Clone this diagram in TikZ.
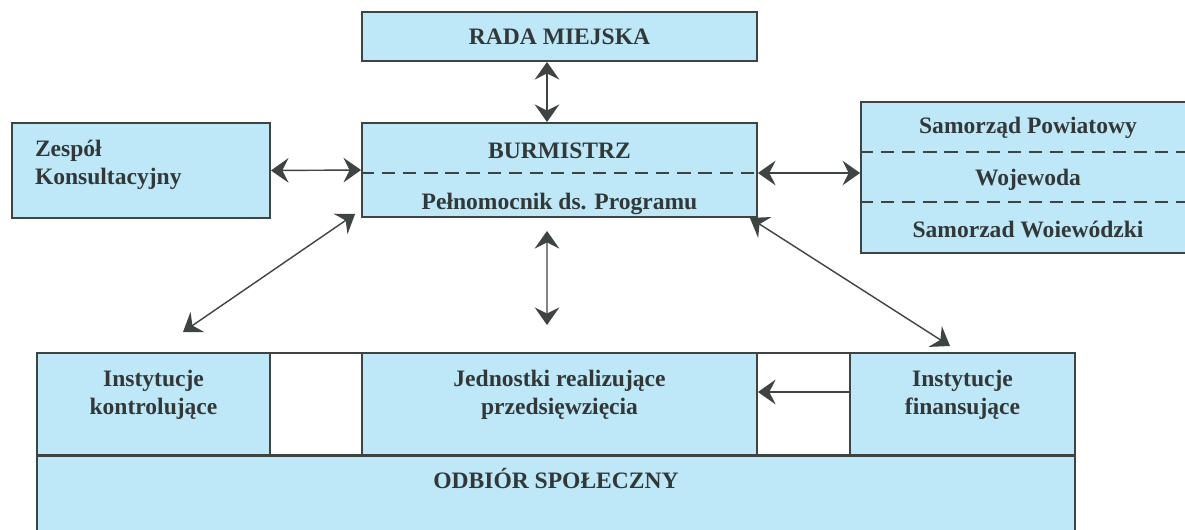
\documentclass[tikz,border=0pt]{standalone}
\usepackage{fontspec}
\setmainfont{Liberation Serif}
\usetikzlibrary{arrows.meta}
\definecolor{boxblue}{RGB}{190,231,247}
\definecolor{edge}{RGB}{62,68,66}
\definecolor{ink}{RGB}{50,56,56}
\begin{document}
\begin{tikzpicture}[x=0.02cm,y=-0.02cm,
    box/.style={draw=edge,line width=1.1pt,fill=boxblue,inner sep=0pt,align=center,
      text=ink,font=\fontsize{13.4}{16}\selectfont\bfseries},
    gapbox/.style={draw=edge,line width=1.1pt,fill=white,inner sep=0pt},
    link/.style={{Stealth[length=10pt,width=14pt,inset=3.5pt]}-{Stealth[length=10pt,width=14pt,inset=3.5pt]},
      line width=0.8pt,draw=edge},
    oneway/.style={-{Stealth[length=10pt,width=14pt,inset=3.5pt]},line width=0.8pt,draw=edge},
    divider/.style={draw=edge,line width=0.9pt,dash pattern=on 7.5pt off 4.5pt}]
    \clip (0,0) rectangle (1185,530);
    \fill[white] (0,0) rectangle (1185,530);

    % Upper level
    \node[box,minimum width=7.9cm,minimum height=0.98cm] (rada) at (559.5,36.5) {RADA MIEJSKA};
    \node[box,minimum width=7.9cm,minimum height=1.88cm] (burm) at (559.5,170) {\mbox{}\\[0.1cm]BURMISTRZ\\[0.44cm]Pełnomocnik ds. Programu};
    \node[box,minimum height=1.9cm,text width=4.24cm,inner xsep=0.46cm,align=left] (zesp) at (141,170.5) {Zespół\\Konsultacyjny\\[-0.25cm]\mbox{}};
    \node[box,minimum width=6.68cm,minimum height=3.02cm] (samo) at (1028,177.5) {Samorząd Powiatowy\\[0.48cm]Wojewoda\\[0.48cm]Samorzad Woiewódzki};

    % Dashed dividers
    \draw[divider] ([yshift=-0.06cm]burm.west) -- ([yshift=-0.06cm]burm.east);
    \draw[divider] ([yshift=0.51cm]samo.west) -- ([yshift=0.51cm]samo.east);
    \draw[divider] ([yshift=-0.49cm]samo.west) -- ([yshift=-0.49cm]samo.east);

    % Lower level
    \node[box,minimum width=4.66cm,minimum height=2.04cm] (kontrol) at (153.5,404) {Instytucje\\kontrolujące\\[-0.1cm]\mbox{}};
    \node[gapbox,minimum width=1.84cm,minimum height=2.04cm] (gapa) at (316,404) {};
    \node[box,minimum width=7.9cm,minimum height=2.04cm] (jedn) at (559.5,404) {Jednostki realizujące\\przedsięwzięcia\\[-0.1cm]\mbox{}};
    \node[gapbox,minimum width=1.86cm,minimum height=2.04cm] (gapb) at (803.5,404) {};
    \node[box,minimum width=4.5cm,minimum height=2.04cm] (finans) at (962.5,404) {Instytucje\\finansujące\\[-0.1cm]\mbox{}};
    \node[box,anchor=north,minimum width=20.76cm,text height=0.65cm,text depth=1.6cm] (odbior) at (556,455) {ODBIÓR SPOŁECZNY};

    % Free ends
    \coordinate (kontrolend) at (183,332);
    \coordinate (midend) at (547,325);
    \coordinate (finansend) at (950,346);

    % Connectors
    \draw[link] ([xshift=-0.25cm]rada.south) -- ([xshift=-0.25cm]burm.north);
    \draw[link] (zesp.east) -- (burm.west);
    \draw[link] ([yshift=-0.06cm]burm.east) -- ([yshift=-0.06cm]burm.east -| samo.west);
    \draw[link] ([xshift=-0.12cm,yshift=0.08cm]burm.south west) -- (kontrolend);
    \draw[link] ([xshift=-0.25cm,yshift=-0.26cm]burm.south) -- (midend);
    \draw[link] ([xshift=-0.16cm]burm.south east) -- (finansend);
    \draw[oneway] ([yshift=0.24cm]finans.west) -- ([yshift=0.24cm]jedn.east);
  \end{tikzpicture}
\end{document}
